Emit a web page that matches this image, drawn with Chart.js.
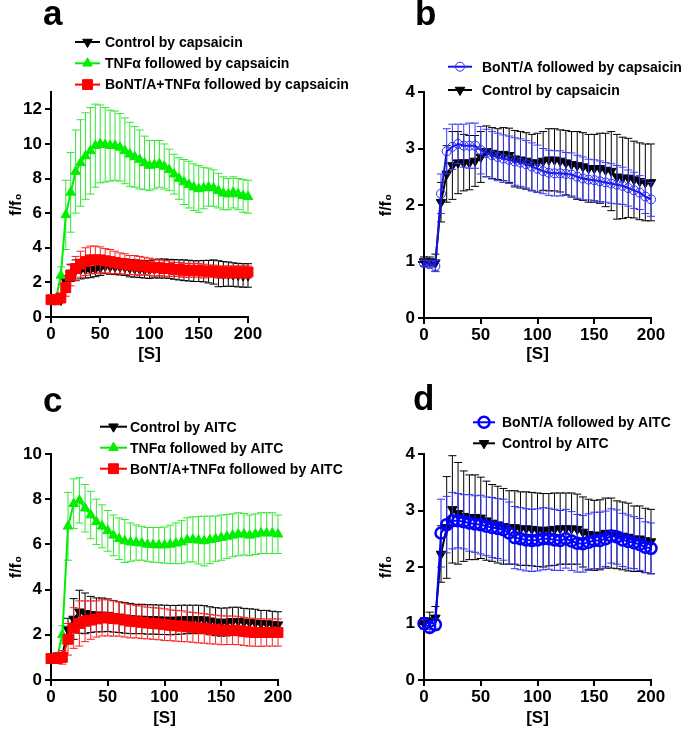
<!DOCTYPE html>
<html>
<head>
<meta charset="utf-8">
<script src="https://cdn.jsdelivr.net/npm/chart.js@4.4.1/dist/chart.umd.min.js"></script>
<style>
body { margin:0; background:#fff; width:685px; height:729px; position:relative; overflow:hidden; }
canvas { position:absolute; }
</style>
</head>
<body>
<canvas id="chartA" width="380" height="365" style="left:0;top:0"></canvas>
<canvas id="chartB" width="340" height="365" style="left:345px;top:0"></canvas>
<canvas id="chartC" width="380" height="364" style="left:0;top:365px"></canvas>
<canvas id="chartD" width="340" height="364" style="left:345px;top:365px"></canvas>
<script>
// --- DATA (one sample every 5 s) ---
const seconds = [0,5,10,15,20,25,30,35,40,45,50,55,60,65,70,75,80,85,90,95,100,105,110,115,120,125,130,135,140,145,150,155,160,165,170,175,180,185,190,195,200];
const xTicks = [0,50,100,150,200];
const yTicksA = [0,2,4,6,8,10,12];
const yTicksB = [0,1,2,3,4];
const yTicksC = [0,2,4,6,8,10];
const yTicksD = [0,1,2,3,4];

// capsaicin
const ctrlCapMean = [1.0,1.0,0.98,2.05,2.55,2.7,2.75,2.75,2.75,2.78,2.85,2.95,2.92,2.9,2.9,2.88,2.82,2.8,2.78,2.75,2.75,2.78,2.8,2.8,2.78,2.75,2.72,2.7,2.68,2.65,2.65,2.65,2.62,2.6,2.5,2.48,2.48,2.45,2.42,2.4,2.4];
const ctrlCapErr = [0.08,0.08,0.15,0.35,0.5,0.6,0.55,0.5,0.48,0.45,0.45,0.45,0.45,0.45,0.47,0.48,0.5,0.5,0.5,0.5,0.52,0.52,0.55,0.55,0.55,0.57,0.58,0.6,0.6,0.6,0.6,0.62,0.65,0.7,0.75,0.72,0.7,0.68,0.68,0.68,0.68];
const tnfCapMean = [1.0,1.0,2.4,5.9,7.2,8.4,8.9,9.3,9.6,9.9,10.0,9.95,9.9,9.9,9.8,9.6,9.4,9.25,9.1,8.9,8.75,8.8,8.85,8.7,8.5,8.25,8.0,7.8,7.65,7.5,7.4,7.45,7.5,7.45,7.3,7.15,7.1,7.2,7.1,7.0,6.95];
const tnfCapErr = [0.1,0.15,0.5,2.0,2.3,2.4,2.5,2.5,2.5,2.4,2.25,2.15,2.05,2.0,1.95,1.9,1.85,1.75,1.7,1.55,1.45,1.4,1.35,1.3,1.2,1.15,1.2,1.3,1.35,1.35,1.35,1.2,1.1,1.05,1.0,0.95,0.9,0.9,0.9,0.95,0.95];
const bontTnfCapMean = [1.0,1.0,1.1,1.7,2.4,2.8,3.05,3.2,3.3,3.3,3.3,3.25,3.2,3.15,3.1,3.05,3.0,3.0,2.95,2.95,2.9,2.85,2.85,2.8,2.8,2.75,2.75,2.7,2.7,2.7,2.7,2.65,2.65,2.65,2.6,2.6,2.6,2.6,2.6,2.6,2.6];
const bontTnfCapErr = [0.1,0.1,0.2,0.5,0.6,0.7,0.75,0.8,0.8,0.8,0.75,0.7,0.7,0.65,0.6,0.6,0.55,0.55,0.55,0.5,0.5,0.5,0.45,0.45,0.45,0.4,0.4,0.4,0.4,0.4,0.4,0.4,0.35,0.35,0.35,0.35,0.35,0.35,0.35,0.35,0.35];
const bontCapMean = [0.97,0.95,0.92,2.2,2.95,3.03,3.08,3.05,3.05,3.05,2.97,2.92,2.88,2.85,2.82,2.8,2.77,2.75,2.72,2.68,2.64,2.6,2.57,2.56,2.56,2.55,2.54,2.5,2.47,2.45,2.44,2.42,2.4,2.38,2.36,2.34,2.3,2.26,2.22,2.15,2.1];
const bontCapErr = [0.05,0.06,0.1,0.35,0.4,0.4,0.35,0.38,0.4,0.4,0.42,0.42,0.42,0.42,0.42,0.42,0.42,0.42,0.42,0.42,0.42,0.4,0.4,0.4,0.4,0.38,0.38,0.38,0.38,0.36,0.36,0.36,0.35,0.35,0.34,0.33,0.32,0.32,0.3,0.3,0.3];

// AITC
const ctrlAitcMean = [1.0,1.05,1.1,2.23,2.7,3.02,2.95,2.9,2.88,2.88,2.87,2.82,2.78,2.75,2.72,2.7,2.7,2.68,2.68,2.67,2.66,2.65,2.66,2.67,2.68,2.68,2.68,2.67,2.62,2.58,2.56,2.57,2.6,2.6,2.57,2.55,2.53,2.5,2.5,2.47,2.45];
const ctrlAitcErr = [0.1,0.15,0.2,0.5,0.9,0.95,0.9,0.8,0.75,0.75,0.72,0.7,0.68,0.68,0.67,0.65,0.65,0.65,0.65,0.65,0.65,0.65,0.64,0.64,0.63,0.63,0.63,0.62,0.62,0.62,0.62,0.62,0.62,0.62,0.6,0.6,0.6,0.58,0.58,0.57,0.57];
const tnfAitcMean = [0.85,0.9,2.0,6.8,7.8,7.95,7.6,7.3,7.0,6.8,6.6,6.4,6.25,6.15,6.1,6.08,6.05,6.0,5.98,5.97,5.97,6.0,6.05,6.1,6.2,6.22,6.18,6.15,6.2,6.25,6.3,6.35,6.4,6.45,6.45,6.4,6.45,6.5,6.5,6.5,6.45];
const tnfAitcErr = [0.1,0.15,0.4,1.5,1.1,1.0,1.05,1.05,1.0,0.95,0.9,0.9,0.92,0.95,0.85,0.78,0.75,0.75,0.77,0.78,0.8,0.85,0.9,0.95,0.98,1.0,1.05,1.1,1.05,1.0,1.0,0.97,0.95,0.95,0.92,0.9,0.9,0.9,0.9,0.9,0.85];
const bontTnfAitcMean = [0.95,0.95,1.0,1.8,2.3,2.5,2.6,2.65,2.7,2.75,2.75,2.72,2.7,2.65,2.6,2.58,2.55,2.52,2.5,2.48,2.45,2.42,2.4,2.38,2.35,2.33,2.3,2.28,2.25,2.23,2.2,2.2,2.2,2.18,2.15,2.12,2.1,2.1,2.1,2.1,2.1];
const bontTnfAitcErr = [0.1,0.15,0.3,0.7,0.9,1.0,0.9,0.85,0.8,0.8,0.8,0.78,0.76,0.75,0.74,0.72,0.72,0.7,0.7,0.7,0.7,0.68,0.68,0.68,0.66,0.66,0.66,0.65,0.65,0.64,0.64,0.63,0.63,0.62,0.62,0.62,0.61,0.61,0.6,0.6,0.6];
const bontAitcMean = [1.0,0.93,0.98,2.6,2.75,2.82,2.82,2.8,2.78,2.76,2.75,2.72,2.7,2.68,2.66,2.6,2.52,2.5,2.48,2.47,2.48,2.5,2.5,2.48,2.47,2.5,2.46,2.42,2.41,2.44,2.47,2.47,2.5,2.55,2.53,2.48,2.45,2.43,2.4,2.35,2.33];
const bontAitcErr = [0.08,0.08,0.1,0.6,0.5,0.5,0.48,0.48,0.5,0.5,0.52,0.52,0.53,0.53,0.54,0.55,0.55,0.55,0.55,0.55,0.55,0.55,0.54,0.54,0.53,0.52,0.52,0.51,0.5,0.5,0.5,0.5,0.49,0.48,0.48,0.47,0.47,0.46,0.46,0.45,0.45];

const FONT = '"Liberation Sans", Arial, sans-serif';
Chart.defaults.font.family = FONT;
Chart.defaults.color = '#000';

// --- STYLES ---
const BLACK = { borderColor:'#000', errorColor:'#000', pointStyle:'triangle', pointRotation:180, pointRadius:5.5, pointBackgroundColor:'#000', pointBorderColor:'#000', pointBorderWidth:1 };
const GREEN = { borderColor:'#00ee00', errorColor:'#33e833', pointStyle:'triangle', pointRotation:0, pointRadius:5.5, pointBackgroundColor:'#00ee00', pointBorderColor:'#00ee00', pointBorderWidth:1 };
const RED = { borderColor:'#ff0000', errorColor:'#ff2020', pointStyle:'rect', pointRotation:0, pointRadius:7, pointBackgroundColor:'#ff0000', pointBorderColor:'#ff0000', pointBorderWidth:1 };
const BLUE_THIN = { borderColor:'#1414e0', errorColor:'#3a3aff', pointStyle:'circle', pointRotation:0, pointRadius:4.5, pointBackgroundColor:'rgba(0,0,0,0)', pointBorderColor:'#2b2bff', pointBorderWidth:1 };
const BLUE_BOLD = { borderColor:'#0000ff', errorColor:'#3030ff', pointStyle:'circle', pointRotation:0, pointRadius:5.5, pointBackgroundColor:'rgba(0,0,0,0)', pointBorderColor:'#0000ff', pointBorderWidth:2.5 };

function series(label, means, errs, style, order) {
    return {
        label: label,
        data: means.map((v, i) => ({ x: seconds[i], y: v })),
        errors: errs,
        ...style,
        borderWidth: 2,
        tension: 0,
        clip: false,
        order: order
    };
}

// Error bars drawn just before each dataset so they stack with it
const errorBars = {
    id: 'errorBars',
    beforeDatasetDraw(chart, args) {
        const ds = chart.data.datasets[args.index];
        if (!ds.errors) return;
        const xs = chart.scales.x, ys = chart.scales.y;
        const ctx = chart.ctx;
        ctx.save();
        ctx.strokeStyle = ds.errorColor;
        ctx.lineWidth = 1;
        ctx.beginPath();
        ds.data.forEach((p, i) => {
            const e = ds.errors[i];
            const px = xs.getPixelForValue(p.x);
            const top = ys.getPixelForValue(p.y + e);
            const bot = ys.getPixelForValue(p.y - e);
            ctx.moveTo(px, top); ctx.lineTo(px, bot);
            ctx.moveTo(px - 4, top); ctx.lineTo(px + 4, top);
            ctx.moveTo(px - 4, bot); ctx.lineTo(px + 4, bot);
        });
        ctx.stroke();
        ctx.restore();
    }
};

// Legend with line + marker, and the panel letter
const lineLegend = {
    id: 'lineLegend',
    afterDraw(chart, args, opts) {
        const ctx = chart.ctx;
        ctx.save();
        ctx.fillStyle = '#000';
        ctx.font = `bold 35px ${FONT}`;
        ctx.textBaseline = 'alphabetic';
        ctx.fillText(opts.letter, opts.letterX, opts.letterY);
        opts.items.forEach((idx, k) => {
            const ds = chart.data.datasets[idx];
            const y = opts.y + k * opts.gap;
            ctx.strokeStyle = ds.borderColor;
            ctx.lineWidth = 2;
            ctx.beginPath();
            ctx.moveTo(opts.x, y);
            ctx.lineTo(opts.x + opts.len, y);
            ctx.stroke();
            ctx.fillStyle = ds.pointBackgroundColor;
            ctx.strokeStyle = ds.pointBorderColor;
            ctx.lineWidth = ds.pointBorderWidth;
            Chart.helpers.drawPoint(ctx, {
                pointStyle: ds.pointStyle, rotation: ds.pointRotation,
                radius: ds.pointRadius, borderWidth: ds.pointBorderWidth
            }, opts.x + opts.len / 2, y);
            ctx.fillStyle = '#000';
            ctx.font = `bold 14px ${FONT}`;
            ctx.textBaseline = 'middle';
            ctx.fillText(ds.label, opts.textX, y + 1);
        });
        ctx.restore();
    }
};

function scales(yMax, yTicks, yWidth, yTitlePad, xHeight) {
    const grid = { display: true, drawOnChartArea: false, drawTicks: true, tickLength: 6, color: '#000', lineWidth: 2 };
    return {
        x: {
            type: 'linear', min: 0, max: 200,
            afterBuildTicks: s => { s.ticks = xTicks.map(v => ({ value: v })); },
            afterFit: s => { s.height = xHeight; },
            grid: grid,
            border: { display: true, color: '#000', width: 2 },
            ticks: { font: { size: 17, weight: 'bold' }, color: '#000', padding: 1, maxRotation: 0 },
            title: { display: true, text: '[S]', font: { size: 17, weight: 'bold' }, color: '#000', padding: { top: 0, bottom: 0 } }
        },
        y: {
            type: 'linear', min: 0, max: yMax,
            afterBuildTicks: s => { s.ticks = yTicks.map(v => ({ value: v })); },
            afterFit: s => { s.width = yWidth; },
            grid: grid,
            border: { display: true, color: '#000', width: 2 },
            ticks: { font: { size: 17, weight: 'bold' }, color: '#000', padding: 3 },
            title: { display: true, text: 'f/f₀', font: { size: 16, weight: 'bold' }, color: '#000', padding: { top: yTitlePad, bottom: 0 } }
        }
    };
}

function makeChart(id, datasets, scaleOpts, padding, legendOpts) {
    return new Chart(document.getElementById(id), {
        type: 'line',
        data: { datasets: datasets },
        options: {
            responsive: false,
            animation: false,
            events: [],
            layout: { padding: padding },
            scales: scaleOpts,
            plugins: { legend: { display: false }, tooltip: { enabled: false }, lineLegend: legendOpts }
        },
        plugins: [errorBars, lineLegend]
    });
}

// a: capsaicin, TNFα
makeChart('chartA', [
    series('Control by capsaicin', ctrlCapMean, ctrlCapErr, BLACK, 2),
    series('TNFα followed by capsaicin', tnfCapMean, tnfCapErr, GREEN, 1),
    series('BoNT/A+TNFα followed by capsaicin', bontTnfCapMean, bontTnfCapErr, RED, 0)
], scales(13, yTicksA, 51, 7, 48), { top: 92, right: 132, left: 0, bottom: 0 },
   { letter: 'a', letterX: 43, letterY: 25, items: [0, 1, 2], x: 75, len: 25, y: 42, gap: 21.3, textX: 105 });

// b: capsaicin, BoNT/A
makeChart('chartB', [
    series('BoNT/A followed by capsaicin', bontCapMean, bontCapErr, BLUE_THIN, 0),
    series('Control by capsaicin', ctrlCapMean, ctrlCapErr, BLACK, 1)
], scales(4, yTicksB, 79, 32, 47), { top: 92, right: 34, left: 0, bottom: 0 },
   { letter: 'b', letterX: 70, letterY: 25, items: [0, 1], x: 103, len: 24, y: 66.7, gap: 23.3, textX: 137 });

// c: AITC, TNFα
makeChart('chartC', [
    series('Control by AITC', ctrlAitcMean, ctrlAitcErr, BLACK, 2),
    series('TNFα followed by AITC', tnfAitcMean, tnfAitcErr, GREEN, 1),
    series('BoNT/A+TNFα followed by AITC', bontTnfAitcMean, bontTnfAitcErr, RED, 0)
], scales(10, yTicksC, 51, 7, 49), { top: 89, right: 102, left: 0, bottom: 0 },
   { letter: 'c', letterX: 43, letterY: 47, items: [0, 1, 2], x: 100, len: 27, y: 61.7, gap: 21, textX: 130 });

// d: AITC, BoNT/A
makeChart('chartD', [
    series('BoNT/A followed by AITC', bontAitcMean, bontAitcErr, BLUE_BOLD, 0),
    series('Control by AITC', ctrlAitcMean, ctrlAitcErr, BLACK, 1)
], scales(4, yTicksD, 79, 32, 49), { top: 89, right: 34, left: 0, bottom: 0 },
   { letter: 'd', letterX: 68, letterY: 45, items: [0, 1], x: 128, len: 22, y: 57.3, gap: 21, textX: 157 });
</script>
</body>
</html>
